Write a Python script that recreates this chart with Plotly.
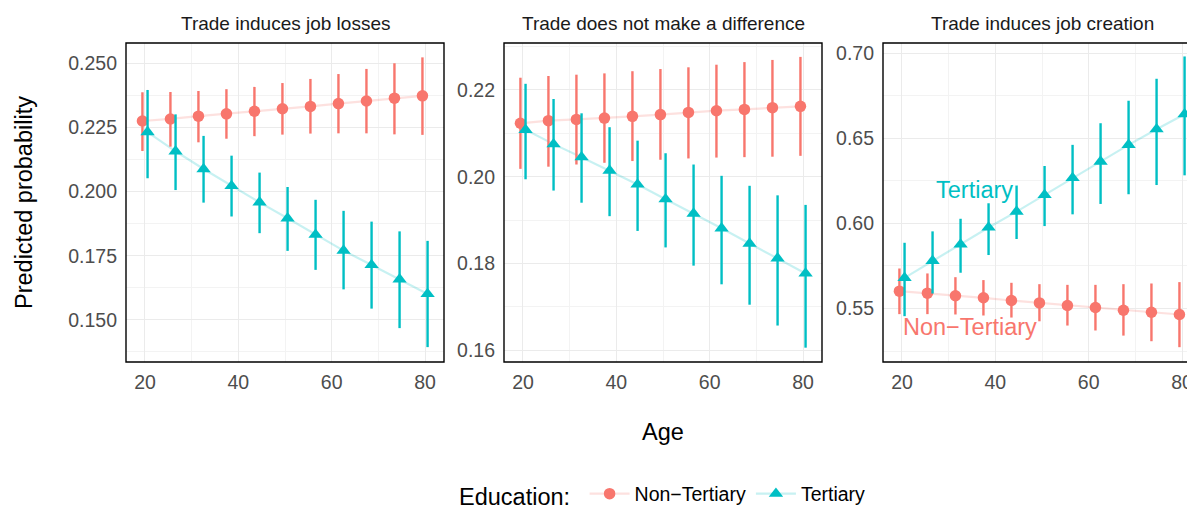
import plotly.graph_objects as go

# ages and panel names
ages = [20, 26, 32, 38, 44, 50, 56, 62, 68, 74, 80]
panels = ["Trade induces job losses", "Trade does not make a difference",
          "Trade induces job creation"]

# predicted probability, lower / upper bounds, per panel
nt_fit = [
    [0.2275, 0.2283, 0.2294, 0.2303, 0.2313, 0.2323, 0.2332, 0.2343, 0.2353, 0.2364, 0.2373],
    [0.2123, 0.2129, 0.2132, 0.2135, 0.2139, 0.2143, 0.2148, 0.2152, 0.2155, 0.2159, 0.2162],
    [0.5602, 0.5590, 0.5575, 0.5563, 0.5547, 0.5533, 0.5518, 0.5506, 0.5490, 0.5478, 0.5465],
]
nt_lo = [
    [0.2158, 0.2175, 0.2192, 0.2206, 0.2216, 0.2222, 0.2226, 0.2227, 0.2227, 0.2223, 0.2221],
    [0.2018, 0.2023, 0.2028, 0.2032, 0.2036, 0.2039, 0.2042, 0.2044, 0.2045, 0.2046, 0.2048],
    [0.5467, 0.5467, 0.5465, 0.5459, 0.5447, 0.5425, 0.5400, 0.5371, 0.5341, 0.5308, 0.5273],
]
nt_hi = [
    [0.2387, 0.2388, 0.2392, 0.2399, 0.2408, 0.2423, 0.2439, 0.2458, 0.2478, 0.2500, 0.2523],
    [0.2228, 0.2232, 0.2235, 0.2238, 0.2243, 0.2248, 0.2252, 0.2258, 0.2264, 0.2269, 0.2276],
    [0.5735, 0.5706, 0.5684, 0.5667, 0.5651, 0.5643, 0.5639, 0.5639, 0.5643, 0.5647, 0.5655],
]
te_fit = [
    [0.2232, 0.2157, 0.2088, 0.2022, 0.1958, 0.1896, 0.1832, 0.1770, 0.1714, 0.1658, 0.1601],
    [0.2108, 0.2075, 0.2045, 0.2014, 0.1982, 0.1948, 0.1915, 0.1881, 0.1846, 0.1812, 0.1777],
    [0.5680, 0.5780, 0.5876, 0.5976, 0.6069, 0.6167, 0.6267, 0.6363, 0.6461, 0.6553, 0.6641],
]
te_lo = [
    [0.2052, 0.2006, 0.1957, 0.1903, 0.1838, 0.1769, 0.1695, 0.1619, 0.1544, 0.1468, 0.1394],
    [0.1994, 0.1968, 0.1940, 0.1909, 0.1875, 0.1837, 0.1795, 0.1752, 0.1705, 0.1657, 0.1606],
    [0.5455, 0.5588, 0.5710, 0.5814, 0.5908, 0.5984, 0.6053, 0.6114, 0.6171, 0.6225, 0.6282],
]
te_hi = [
    [0.2396, 0.2301, 0.2217, 0.2140, 0.2074, 0.2018, 0.1968, 0.1925, 0.1883, 0.1845, 0.1808],
    [0.2214, 0.2179, 0.2146, 0.2114, 0.2083, 0.2054, 0.2028, 0.2002, 0.1979, 0.1957, 0.1935],
    [0.5886, 0.5953, 0.6027, 0.6118, 0.6222, 0.6337, 0.6461, 0.6588, 0.6720, 0.6849, 0.6980],
]

y_ranges = [[0.1336, 0.2579], [0.1573, 0.2308], [0.5186, 0.7059]]
y_ticks = [[0.150, 0.175, 0.200, 0.225, 0.250], [0.16, 0.18, 0.20, 0.22],
           [0.55, 0.60, 0.65, 0.70]]
y_fmt = [".3f", ".2f", ".2f"]
x_ticks = [20, 40, 60, 80]

RED = "#F8766D"
TEAL = "#00BFC4"
RED_PALE = "rgba(248,118,109,0.22)"
TEAL_PALE = "rgba(0,191,196,0.22)"
DODGE = 0.55
FONT = "Liberation Sans, Arial, sans-serif"

# the page body has an 8px margin, so the figure sits at (8, 8);
# it is made a bit larger than the window so the third panel runs off the right edge
OX, OY = 8, 8
W, H = 1215, 525


def px(x):
    return (x - OX) / W


def py(y):
    return 1 - (y - OY) / H


x_px = [(126, 444), (504, 822), (883, 1201)]
y_dom = [py(362), py(43)]
x_range = [15.93, 84.07]

fig = go.Figure()

for i in range(3):
    xa = "x" if i == 0 else "x%d" % (i + 1)
    ya = "y" if i == 0 else "y%d" % (i + 1)
    xs_nt = [a - DODGE for a in ages]
    xs_te = [a + DODGE for a in ages]
    fig.add_trace(go.Scatter(x=xs_nt, y=nt_fit[i], mode="lines",
                             line=dict(color=RED_PALE, width=2.2),
                             showlegend=False, hoverinfo="skip", xaxis=xa, yaxis=ya))
    fig.add_trace(go.Scatter(x=xs_te, y=te_fit[i], mode="lines",
                             line=dict(color=TEAL_PALE, width=2.2),
                             showlegend=False, hoverinfo="skip", xaxis=xa, yaxis=ya))
    fig.add_trace(go.Scatter(
        x=xs_nt, y=nt_fit[i], mode="markers", name="Non\u2212Tertiary",
        marker=dict(color=RED, size=11.5, symbol="circle"),
        error_y=dict(type="data", symmetric=False,
                     array=[h - f for h, f in zip(nt_hi[i], nt_fit[i])],
                     arrayminus=[f - l for f, l in zip(nt_fit[i], nt_lo[i])],
                     color=RED, thickness=2.4, width=0),
        showlegend=False, xaxis=xa, yaxis=ya))
    fig.add_trace(go.Scatter(
        x=xs_te, y=te_fit[i], mode="markers", name="Tertiary",
        marker=dict(color=TEAL, size=12.5, symbol="triangle-up"),
        error_y=dict(type="data", symmetric=False,
                     array=[h - f for h, f in zip(te_hi[i], te_fit[i])],
                     arrayminus=[f - l for f, l in zip(te_fit[i], te_lo[i])],
                     color=TEAL, thickness=2.4, width=0),
        showlegend=False, xaxis=xa, yaxis=ya))

    axis_common = dict(showgrid=True, gridcolor="#EBEBEB", gridwidth=1.1,
                       zeroline=False, showline=False, ticks="",
                       tickfont=dict(family=FONT, size=19.5, color="#4D4D4D"))
    fig.update_layout(**{
        ("xaxis" if i == 0 else "xaxis%d" % (i + 1)): dict(
            domain=[px(x_px[i][0]), px(x_px[i][1])], range=x_range,
            tickvals=x_ticks, anchor=ya,
            minor=dict(dtick=10, tick0=0, showgrid=True, gridcolor="#F3F3F3", gridwidth=0.6),
            ticklabelstandoff=6, **axis_common),
        ("yaxis" if i == 0 else "yaxis%d" % (i + 1)): dict(
            domain=y_dom, range=y_ranges[i], tickvals=y_ticks[i],
            tickformat=y_fmt[i], anchor=xa,
            minor=dict(dtick=(y_ticks[i][1] - y_ticks[i][0]) / 2, tick0=y_ticks[i][0],
                       showgrid=True, gridcolor="#F3F3F3", gridwidth=0.6),
            ticklabelstandoff=8, **axis_common),
    })

    fig.add_shape(type="rect", xref=xa + " domain", yref=ya + " domain",
                  x0=0, x1=1, y0=0, y1=1,
                  line=dict(color="black", width=1.4), fillcolor="rgba(0,0,0,0)")
    fig.add_annotation(text=panels[i], xref="paper", yref="paper",
                       x=px((x_px[i][0] + x_px[i][1]) / 2), y=py(24),
                       showarrow=False, xanchor="center", yanchor="middle",
                       font=dict(family=FONT, size=19, color="#1A1A1A"))

# direct labels in the third panel
fig.add_annotation(text="Tertiary", x=35.5, y=0.6196, xref="x3", yref="y3",
                   showarrow=False, font=dict(family=FONT, size=23.5, color=TEAL))
fig.add_annotation(text="Non\u2212Tertiary", x=34.6, y=0.5392, xref="x3", yref="y3",
                   showarrow=False, font=dict(family=FONT, size=23.5, color=RED))

# axis titles
fig.add_annotation(text="Age", xref="paper", yref="paper", x=px(663), y=py(432),
                   xanchor="center", yanchor="middle", showarrow=False,
                   font=dict(family=FONT, size=23.5, color="black"))
fig.add_annotation(text="Predicted probability", xref="paper", yref="paper",
                   x=px(24), y=py(203), textangle=-90, showarrow=False,
                   xanchor="center", yanchor="middle",
                   font=dict(family=FONT, size=23.5, color="black"))

# legend entries
fig.add_trace(go.Scatter(x=[None], y=[None], mode="lines+markers", name="Non\u2212Tertiary",
                         marker=dict(color=RED, size=11.5, symbol="circle"),
                         line=dict(color=RED_PALE, width=2.2)))
fig.add_trace(go.Scatter(x=[None], y=[None], mode="lines+markers", name="Tertiary",
                         marker=dict(color=TEAL, size=12.5, symbol="triangle-up"),
                         line=dict(color=TEAL_PALE, width=2.2)))

fig.update_layout(
    width=W, height=H,
    margin=dict(l=0, r=0, t=0, b=0),
    paper_bgcolor="white", plot_bgcolor="white",
    font=dict(family=FONT),
    legend=dict(orientation="h", x=px(664), xanchor="center", y=py(495),
                yanchor="middle", title=dict(text="Education: ", font=dict(size=23.5, color="black")),
                font=dict(family=FONT, size=19.5, color="black"), itemwidth=40),
)

fig.write_html("out.html")
